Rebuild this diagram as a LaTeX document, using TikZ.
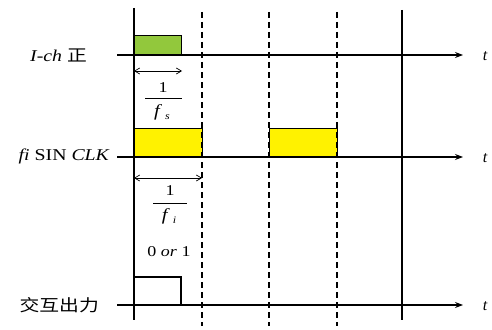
\documentclass[tikz,border=0pt]{standalone}
\usepackage{fontspec}
\setmainfont{Liberation Serif}
\newfontfamily\cjk{Noto Sans CJK SC}
\usetikzlibrary{arrows.meta}
\newcommand\wideTxt[1]{\scalebox{1.2}[1]{#1}}
\tikzset{
  axis/.style={line width=1.1pt,-{Stealth[length=8pt,width=6pt]}},
  solidv/.style={line width=1.3pt},
  dashv/.style={line width=1.3pt,dash pattern=on 6pt off 4pt},
  span/.style={line width=0.7pt,{Straight Barb[length=5pt,width=6pt]}-{Straight Barb[length=5pt,width=6pt]}},
  lbl/.style={font=\fontsize{16.5}{18}\selectfont,anchor=east,inner sep=0pt},
  tl/.style={font=\fontsize{16}{18}\selectfont\itshape,inner sep=0pt},
  frac/.style={font=\fontsize{15}{17}\selectfont,inner sep=0pt},
  fbar/.style={line width=0.6pt},
}
\begin{document}
\begin{tikzpicture}[x=1pt,y=-1pt]
\useasboundingbox (0,0) rectangle (492,329);
% vertical lines
\coordinate (v0t) at (134,8);  \coordinate (v0b) at (134,320);
\coordinate (v1t) at (202,12); \coordinate (v1b) at (202,326);
\coordinate (v2t) at (269,12); \coordinate (v2b) at (269,326);
\coordinate (v3t) at (337,12); \coordinate (v3b) at (337,326);
\coordinate (v4t) at (402,10); \coordinate (v4b) at (402,320);
% boxes
\filldraw[fill={rgb,255:red,146;green,200;blue,60},draw=black,line width=0.9pt] (134,35) rectangle (181,55);
\filldraw[fill=yellow,draw=black,line width=0.9pt] (134,128) rectangle (202,157);
\filldraw[fill=yellow,draw=black,line width=0.9pt] (269,128) rectangle (337,157);
\draw[solidv] (v0t) -- (v0b);
\draw[solidv] (v4t) -- (v4b);
\draw[dashv] (v1t) -- (v1b);
\draw[dashv] (v2t) -- (v2b);
\draw[dashv] (v3t) -- (v3b);
% axes
\coordinate (a1s) at (117,55);  \coordinate (a1e) at (463,55);
\coordinate (a2s) at (117,157); \coordinate (a2e) at (463,157);
\coordinate (a3s) at (117,305); \coordinate (a3e) at (463,305);
\draw[axis] (a1s) -- (a1e);
\draw[axis] (a2s) -- (a2e);
\draw[axis] (a3s) -- (a3e);
\node[tl] (t1) at (485,56) {t};
\node[tl] (t2) at (485,158) {t};
\node[tl] (t3) at (485,306) {t};
% labels
\node[lbl] (l1) at (87,55) {\wideTxt{\textit{I-ch} {\cjk 正}}};
\node[lbl] (l2) at (110,156) {\wideTxt{\textit{fi} SIN \textit{CLK}}};
\node[lbl] (l3) at (99,305) {\wideTxt{\cjk 交互出力}};
% spans
\coordinate (s1a) at (134,71); \coordinate (s1b) at (182,71);
\draw[span] (s1a) -- (s1b);
\coordinate (s2a) at (134,178); \coordinate (s2b) at (202,178);
\draw[span] (s2a) -- (s2b);
% fraction 1/f_s
\node[frac] (n1) at (163,88) {\wideTxt{1}};
\coordinate (b1a) at (145,98); \coordinate (b1b) at (182,98);
\draw[fbar] (b1a) -- (b1b);
\node[frac] (d1) at (162,112) {\wideTxt{{\fontsize{17}{18}\selectfont\textit{f}}\,\raisebox{-0.5ex}{\fontsize{10}{11}\selectfont\textit{s}}}};
% fraction 1/f_i
\node[frac] (n2) at (170,191) {\wideTxt{1}};
\coordinate (b2a) at (153,203); \coordinate (b2b) at (187,203);
\draw[fbar] (b2a) -- (b2b);
\node[frac] (d2) at (169,216) {\wideTxt{{\fontsize{17}{18}\selectfont\textit{f}}\,\raisebox{-0.5ex}{\fontsize{10}{11}\selectfont\textit{i}}}};
\node[frac] (o1) at (169,252) {\wideTxt{0 \textit{or} 1}};
% pulse
\coordinate (p0) at (134,277); \coordinate (p1) at (181,277);
\coordinate (p2) at (181,305); \coordinate (p3) at (202,305);
\draw[line width=1.6pt] (p0) -- (p1) -- (p2) -- (p3);
\end{tikzpicture}
\end{document}
